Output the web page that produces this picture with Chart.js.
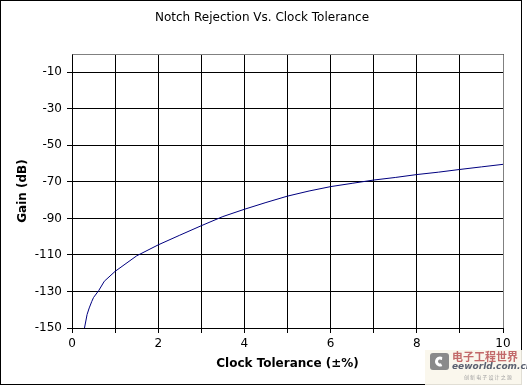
<!DOCTYPE html>
<html>
<head>
<meta charset="utf-8">
<script src="https://cdn.jsdelivr.net/npm/chart.js@4.4.1/dist/chart.umd.min.js"></script>
<style>
html,body{margin:0;padding:0;background:#fff;}
#wrap{width:527px;height:386px;position:relative;}
</style>
</head>
<body>
<div id="wrap"><canvas id="c" width="527" height="386"></canvas></div>
<script>
const chartTitle = 'Notch Rejection Vs. Clock Tolerance';
const xTitle = 'Clock Tolerance (\u00b1%)';
const yTitle = 'Gain (dB)';
const tolerance = [0.29, 0.35, 0.4, 0.46, 0.5, 0.62, 0.75, 1.0, 1.5, 2.0, 2.5, 3.0, 3.5, 4.0, 4.5, 5.0, 5.5, 6.0, 6.5, 7.0, 7.5, 8.0, 8.5, 9.0, 9.5, 10.0];
const gain = [-150, -142.6, -139, -135.4, -133.3, -129.5, -124.4, -119, -110.5, -104.5, -99.2, -94, -89, -85, -81.3, -77.8, -75, -72.6, -70.8, -69, -67.6, -66, -64.7, -63.2, -61.8, -60.4];
const yTickValues = [-150, -130, -110, -90, -70, -50, -30, -10];
const xLabelValues = [0, 2, 4, 6, 8, 10];

Chart.defaults.font.family = '"DejaVu Sans", Verdana, sans-serif';
Chart.defaults.font.size = 12;
Chart.defaults.color = '#000';

const decor = {
  id: 'decor',
  beforeDraw(chart) {
    const ctx = chart.ctx;
    ctx.save();
    ctx.fillStyle = '#fff';
    ctx.fillRect(0, 0, chart.width, chart.height);
    ctx.restore();
  },
  afterDatasetsDraw(chart) {
    const {ctx, chartArea: a} = chart;
    ctx.save();
    ctx.strokeStyle = '#808080';
    ctx.lineWidth = 1;
    ctx.beginPath();
    ctx.moveTo(Math.round(a.left) + 0.5, Math.round(a.top) + 0.5);
    ctx.lineTo(Math.round(a.right) + 0.5, Math.round(a.top) + 0.5);
    ctx.lineTo(Math.round(a.right) + 0.5, Math.round(a.bottom));
    ctx.stroke();
    ctx.restore();
  },
  afterDraw(chart) {
    const ctx = chart.ctx;
    ctx.save();
    ctx.strokeStyle = '#000';
    ctx.lineWidth = 1;
    ctx.strokeRect(0.5, 0.5, 521, 384);
    // watermark logo
    ctx.fillStyle = 'rgba(250,246,235,0.9)';
    ctx.fillRect(425, 350, 97, 35);
    ctx.fillStyle = '#8a8a8a';
    ctx.beginPath();
    ctx.roundRect(430, 353, 19, 17, 3);
    ctx.fill();
    ctx.fillStyle = '#fff';
    ctx.beginPath();
    ctx.arc(440, 361.5, 5, 0.35 * Math.PI, 1.65 * Math.PI);
    ctx.lineTo(442, 360);
    ctx.arc(440, 361.5, 2, 1.65 * Math.PI, 0.35 * Math.PI, true);
    ctx.fill();
    ctx.fillStyle = '#c26a6a';
    ctx.font = 'bold 11px "Noto Sans CJK SC"';
    ctx.textBaseline = 'middle';
    ctx.fillText('\u7535\u5b50\u5de5\u7a0b\u4e16\u754c', 452, 357);
    ctx.fillStyle = '#5a6070';
    ctx.font = 'italic bold 9px "DejaVu Sans"';
    ctx.fillText('eeworld.com.cn', 452, 367);
    ctx.fillStyle = '#a0a0a0';
    ctx.font = '5px "Noto Sans CJK SC"';
    ctx.fillText('\u521b \u65b0 \u7535 \u5b50 \u8bbe \u8ba1 \u4e4b \u6e90', 464, 377);
    ctx.restore();
  }
};

new Chart(document.getElementById('c'), {
  type: 'scatter',
  data: {
    datasets: [{
      data: tolerance.map((x, i) => ({x: x, y: gain[i]})),
      showLine: true,
      borderColor: '#000080',
      borderWidth: 1,
      pointRadius: 0,
      tension: 0,
      fill: false
    }]
  },
  options: {
    responsive: false,
    animation: false,
    devicePixelRatio: 1,
    layout: {padding: {left: 21, right: 24, top: 0, bottom: 0}},
    plugins: {
      legend: {display: false},
      tooltip: {enabled: false},
      title: {
        display: true,
        text: chartTitle,
        color: '#000',
        font: {size: 12, weight: 'normal', lineHeight: 1.2},
        padding: {top: 10.8, bottom: 28.8}
      }
    },
    scales: {
      x: {
        type: 'linear',
        min: 0, max: 10,
        afterFit(s) { s.height = 58; },
        ticks: {
          stepSize: 1,
          autoSkip: false,
          maxRotation: 0,
          padding: 4,
          color: '#000',
          font: {size: 12},
          callback: (v) => xLabelValues.includes(v) ? String(v) : ''
        },
        grid: {color: '#000', lineWidth: 1, tickLength: 5, drawTicks: true},
        border: {color: '#000', width: 1},
        title: {
          display: true,
          text: xTitle,
          color: '#000',
          font: {size: 12, weight: 'bold', lineHeight: 1.2},
          padding: {top: 0, bottom: 15}
        }
      },
      y: {
        type: 'linear',
        min: -150, max: 0,
        afterFit(s) { s.width = 51; },
        afterBuildTicks(s) { s.ticks = yTickValues.map(v => ({value: v})); },
        ticks: {
          padding: 5,
          color: '#000',
          font: {size: 12},
          callback: (v) => String(v)
        },
        grid: {color: '#000', lineWidth: 1, tickLength: 5, drawTicks: true},
        border: {color: '#000', width: 1},
        title: {
          display: true,
          text: yTitle,
          color: '#000',
          font: {size: 12, weight: 'bold', lineHeight: 1.2},
          padding: {top: -5.6, bottom: 0}
        }
      }
    }
  },
  plugins: [decor]
});
</script>
</body>
</html>
